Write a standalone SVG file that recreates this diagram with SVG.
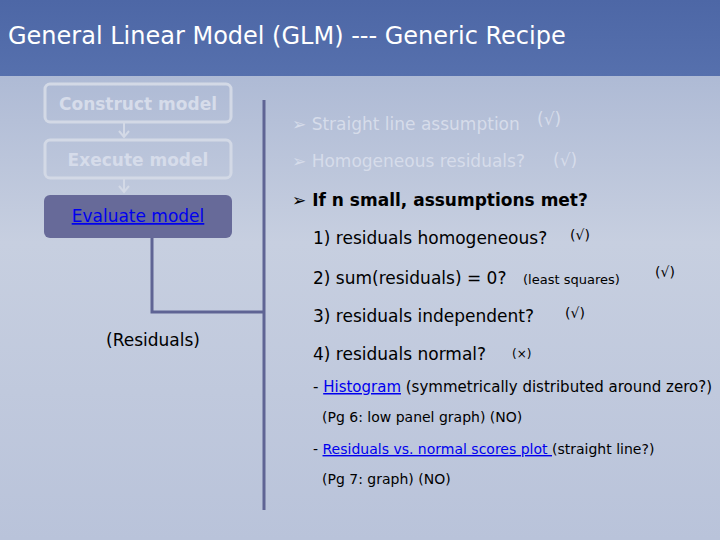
<svg xmlns="http://www.w3.org/2000/svg" width="720" height="540" viewBox="0 0 720 540">
<defs>
<linearGradient id="bg" x1="0" y1="0" x2="0" y2="1">
<stop offset="0" stop-color="#a3b1d0"/><stop offset="0.45" stop-color="#c7cfe0"/><stop offset="1" stop-color="#b9c3da"/>
</linearGradient>
<linearGradient id="tb" x1="0" y1="0" x2="0" y2="1">
<stop offset="0" stop-color="#4d67a6"/><stop offset="1" stop-color="#5670ad"/>
</linearGradient>
</defs>
<style>
text{font-family:"Comic Sans MS","DejaVu Sans",sans-serif}
.box{fill:none;stroke:#d3d9e6;stroke-width:3}
.fade{fill:#d6dcea;font-size:17px}
.blk{fill:#000;font-size:17px}
.sm{font-size:14px;fill:#000}
.line{stroke:#5f6494;stroke-width:3;fill:none}
.arr{stroke:#d3d9e6;stroke-width:2;fill:none}
.lnk{fill:#0000ee;text-decoration:underline}
</style>
<rect width="720" height="540" fill="url(#bg)"/>
<rect width="720" height="76" fill="url(#tb)"/>
<text x="8" y="44" fill="#fff" font-size="24">General Linear Model (GLM) --- Generic Recipe</text>
<g id="construct"><rect class="box" x="45" y="84" width="186" height="38" rx="5"/><text x="138" y="110" text-anchor="middle" font-size="17" font-weight="bold" fill="#d6dcea">Construct model</text></g>
<g id="execute"><rect class="box" x="45" y="140" width="186" height="38" rx="5"/><text x="138" y="166" text-anchor="middle" font-size="17" font-weight="bold" fill="#d6dcea">Execute model</text></g>
<g id="evaluate"><rect x="44" y="195" width="188" height="43" rx="6" fill="#676a99"/><text x="138" y="222" text-anchor="middle" font-size="17" class="lnk">Evaluate model</text></g>
<g id="residuals"><text x="153" y="346" text-anchor="middle" class="blk" font-size="16">(Residuals)</text></g>
<g id="connectors">
<path class="arr" d="M124 122V137M119 131l5 6 5-6M124 178V192M119 186l5 6 5-6"/>
<path class="line" d="M152 238V312H264M264 100V510"/>
</g>
<g id="text">
<text x="292" y="130" class="fade">➢ Straight line assumption</text><text x="537" y="125" class="fade" font-size="14">(√)</text>
<text x="292" y="167" class="fade">➢ Homogeneous residuals?</text><text x="553" y="166" class="fade" font-size="14">(√)</text>
<text x="292" y="206" class="blk" font-weight="bold">➢ If n small, assumptions met?</text>
<text x="313" y="244" class="blk">1) residuals homogeneous?</text><text x="570" y="240" class="sm">(√)</text>
<text x="313" y="284" class="blk">2) sum(residuals) = 0?</text><text x="523" y="284" font-size="13" fill="#000">(least squares)</text><text x="655" y="277" class="sm">(√)</text>
<text x="313" y="322" class="blk">3) residuals independent?</text><text x="565" y="318" class="sm">(√)</text>
<text x="313" y="360" class="blk">4) residuals normal?</text><text x="512" y="358" font-size="12" fill="#000">(×)</text>
<text x="313" y="392" font-size="15" fill="#000">- <tspan class="lnk">Histogram</tspan> (symmetrically distributed around zero?)</text>
<text x="322" y="422" font-size="14" fill="#000">(Pg 6: low panel graph)  (NO)</text>
<text x="313" y="454" font-size="14" fill="#000">- <tspan class="lnk">Residuals vs. normal scores plot </tspan>(straight line?)</text>
<text x="322" y="484" font-size="14" fill="#000">(Pg 7: graph)  (NO)</text>
</g>
</svg>
